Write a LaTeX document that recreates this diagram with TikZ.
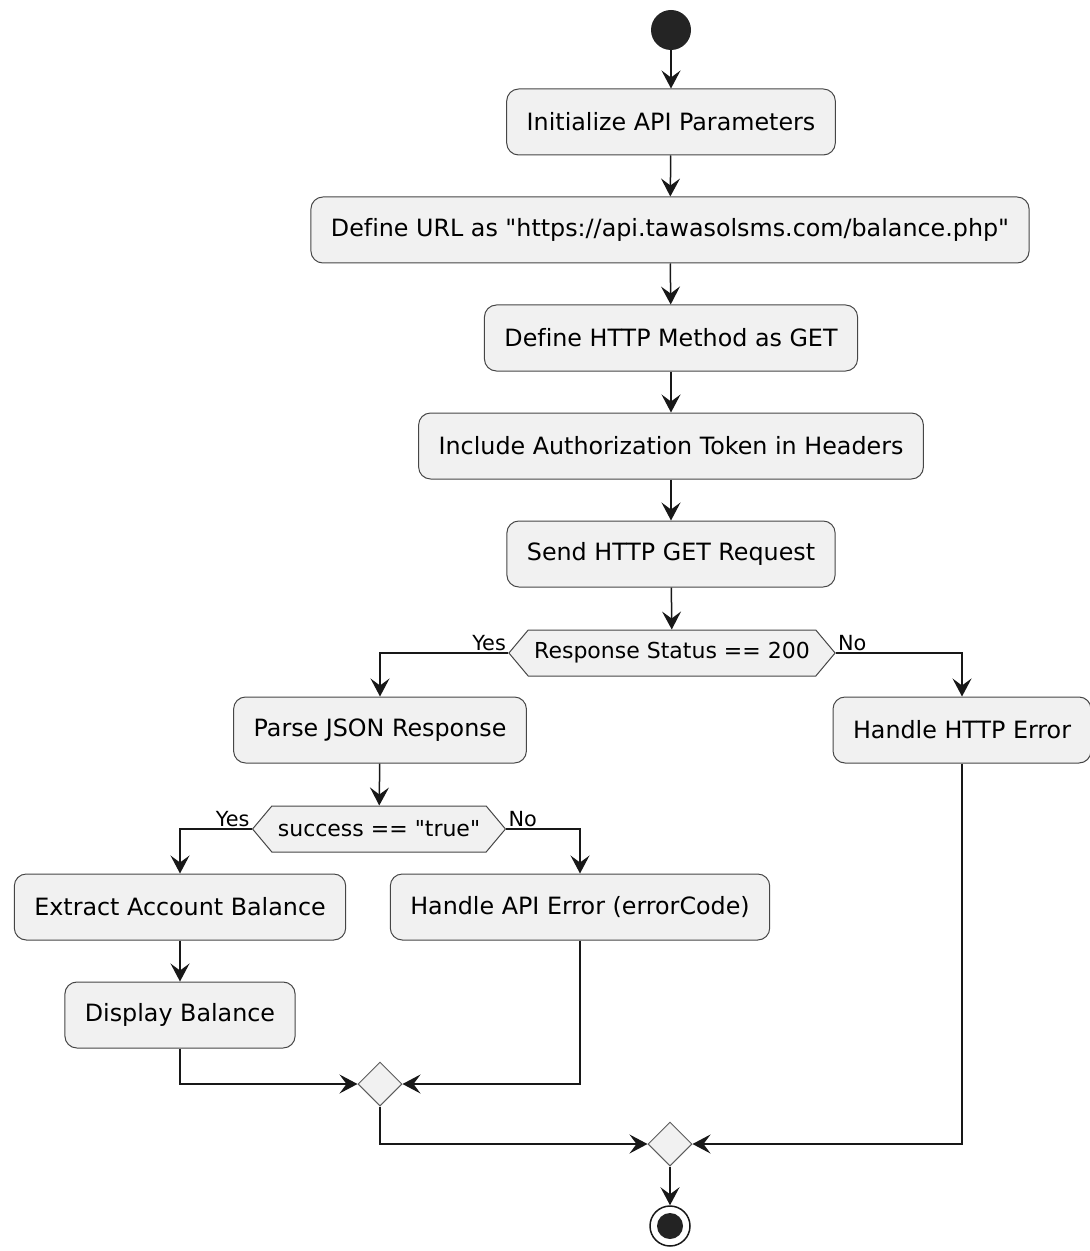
\documentclass[tikz,border=0pt]{standalone}
\usepackage{fontspec}
\newfontfamily\plantfont[Ligatures=CommonOff]{DejaVu Sans}
\usetikzlibrary{shapes,arrows.meta,positioning}
\definecolor{boxfill}{HTML}{F1F1F1}
\definecolor{boxline}{HTML}{181818}
\tikzstyle{every picture}=[node distance=54pt,%
	>={Stealth[length=9pt,width=9.5pt,inset=3.5pt]}, font=\plantfont\fontsize{11.9}{14}\selectfont]
\tikzstyle{action}=[rectangle, rounded corners=6pt, draw=boxline!80, line width=0.5pt,%
	fill=boxfill, inner xsep=10pt, minimum height=33pt]
\tikzstyle{choice}=[signal, signal to=east and west, signal pointer angle=100, draw=boxline!80,%
	line width=0.5pt, fill=boxfill, minimum height=23pt, inner xsep=3pt,%
	font=\plantfont\fontsize{11}{13}\selectfont]
\tikzstyle{merge}=[diamond, draw=boxline!70, line width=0.5pt, fill=boxfill, minimum size=22pt, inner sep=0pt]
\tikzstyle{flow}=[->, draw=boxline, line width=0.75pt]
\tikzstyle{guard}=[font=\plantfont\fontsize{10.4}{12}\selectfont, inner sep=1pt]

\begin{document}
\begin{tikzpicture}[x=0.5pt, y=-0.5pt]
	\useasboundingbox (0,0) rectangle (1089,1251);
	% main column
	\node[circle, fill=boxline!95, minimum size=20pt] (start) at (671,30) {};
	\node[action] (init) at (671,122) {Initialize API Parameters};
	\node[action] (url) at (670,230) {Define URL as "https://api.tawasolsms.com/balance.php"};
	\node[action] (method) at (671,338) {Define HTTP Method as GET};
	\node[action] (auth) at (671,446) {Include Authorization Token in Headers};
	\node[action] (send) at (671,554) {Send HTTP GET Request};
	\node[choice] (status) at (672,653) {Response Status == 200};
	% branches
	\node[action] (parse) at (380,730) {Parse JSON Response};
	\node[action] (httperr) at (962,730) {Handle HTTP Error};
	\node[choice] (success) at (379,829) {success == "true"};
	\node[action] (extract) at (180,907) {Extract Account Balance};
	\node[action] (apierr) at (580,907) {Handle API Error (errorCode)};
	\node[action] (display) at (180,1015) {Display Balance};
	\node[merge] (inner) at (380,1084) {};
	\node[merge] (outer) at (670,1144) {};
	\node[circle, draw=boxline, line width=0.75pt, fill=white, minimum size=20pt] (stop) at (670,1226) {};
	\fill[boxline!95] (stop) circle (6.5pt);
	% guards
	\node[guard, anchor=south east] (yes1) at (status.west) {Yes};
	\node[guard, anchor=south west] (no1) at (status.east) {No};
	\node[guard, anchor=south east] (yes2) at (success.west) {Yes};
	\node[guard, anchor=south west] (no2) at (success.east) {No};
	% flows
	\draw[flow] (start) -- (init);
	\draw[flow] (init) -- (url);
	\draw[flow] (url) -- (method);
	\draw[flow] (method) -- (auth);
	\draw[flow] (auth) -- (send);
	\draw[flow] (send) -- (status);
	\draw[flow] (status.west) -| (parse);
	\draw[flow] (status.east) -| (httperr);
	\draw[flow] (parse) -- (success);
	\draw[flow] (success.west) -| (extract);
	\draw[flow] (success.east) -| (apierr);
	\draw[flow] (extract) -- (display);
	\draw[flow] (display) |- (inner);
	\draw[flow] (apierr) |- (inner);
	\draw[flow] (inner) |- (outer);
	\draw[flow] (httperr) |- (outer);
	\draw[flow] (outer) -- (stop);
\end{tikzpicture}
\end{document}
